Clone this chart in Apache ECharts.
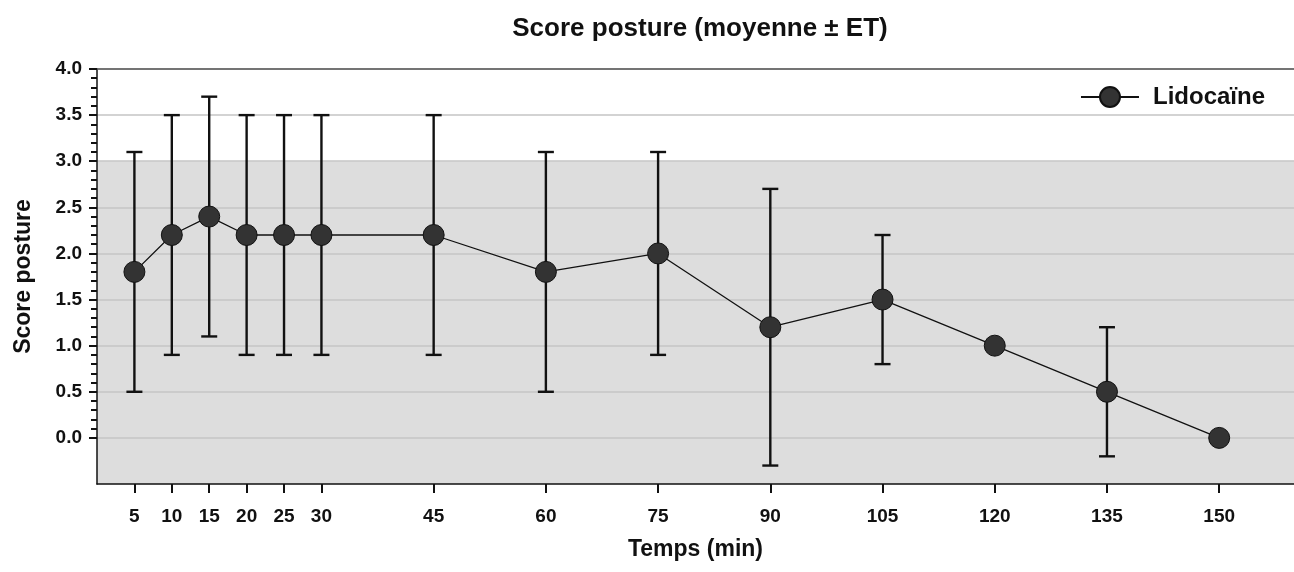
<!DOCTYPE html>
<html>
<head>
<meta charset="utf-8">
<script src="https://cdn.jsdelivr.net/npm/echarts@6/dist/echarts.min.js"></script>
<style>
html,body{margin:0;padding:0;background:#fff;}
#chart{width:1294px;height:572px;}
</style>
</head>
<body>
<div id="chart"></div>
<script>
// ---- data ----
const times = [5, 10, 15, 20, 25, 30, 45, 60, 75, 90, 105, 120, 135, 150];
const means = [1.8, 2.2, 2.4, 2.2, 2.2, 2.2, 2.2, 1.8, 2.0, 1.2, 1.5, 1.0, 0.5, 0.0];
const sds   = [1.3, 1.3, 1.3, 1.3, 1.3, 1.3, 1.3, 1.3, 1.1, 1.5, 0.7, 0.0, 0.7, 0.0];
const yMajorTicks = [0, 0.5, 1, 1.5, 2, 2.5, 3, 3.5, 4];
const yMinorTicks = [0.1,0.2,0.3,0.4,0.6,0.7,0.8,0.9,1.1,1.2,1.3,1.4,1.6,1.7,1.8,1.9,2.1,2.2,2.3,2.4,2.6,2.7,2.8,2.9,3.1,3.2,3.3,3.4,3.6,3.7,3.8,3.9];
const shadedRange = [-0.5, 3.0];
const seriesName = 'Lidocaïne';
const titleText = 'Score posture (moyenne ± ET)';
const xName = 'Temps (min)';
const yName = 'Score posture';

const FONT = '"Liberation Sans", Arial, sans-serif';
const lineData = times.map((t, i) => [t, means[i]]);
const errData = times.map((t, i) => [t, means[i] - sds[i], means[i] + sds[i]]).filter((d, i) => sds[i] > 0);

const chart = echarts.init(document.getElementById('chart'));
chart.setOption({
  animation: false,
  backgroundColor: '#ffffff',
  title: {
    text: titleText,
    left: 695,
    top: 11,
    textAlign: 'center',
    textStyle: { fontFamily: FONT, fontWeight: 'bold', fontSize: 26, color: '#111' }
  },
  legend: {
    right: 24,
    top: 80,
    itemWidth: 58,
    itemHeight: 25,
    data: [seriesName],
    textStyle: { fontFamily: FONT, fontWeight: 'bold', fontSize: 24, color: '#111', padding: [0, 0, 0, 9] }
  },
  grid: { left: 97, top: 69, right: -6, bottom: 88, containLabel: false },
  xAxis: [{
    type: 'value',
    min: 0, max: 160,
    z: 1,
    name: xName,
    nameLocation: 'middle',
    nameGap: 54,
    nameTextStyle: { fontFamily: FONT, fontWeight: 'bold', fontSize: 23, color: '#111' },
    axisLine: { show: true, onZero: false, lineStyle: { color: '#111', width: 1.5 } },
    axisTick: { show: true, customValues: times, length: 9, lineStyle: { color: '#111', width: 2 } },
    axisLabel: { customValues: times, margin: 23, fontFamily: FONT, fontWeight: 'bold', fontSize: 19, color: '#111' },
    splitLine: { show: false }
  }, {
    type: 'value',
    position: 'top',
    min: 0, max: 160,
    z: 1,
    axisLine: { show: true, onZero: false, lineStyle: { color: '#555', width: 1.5 } },
    axisTick: { show: false },
    axisLabel: { show: false },
    splitLine: { show: false }
  }],
  yAxis: [{
    type: 'value',
    min: -0.5, max: 4, interval: 0.5,
    z: 1,
    name: yName,
    nameLocation: 'middle',
    nameGap: 62,
    nameRotate: 90,
    nameTextStyle: { fontFamily: FONT, fontWeight: 'bold', fontSize: 23, color: '#111' },
    axisLine: { show: true, onZero: false, lineStyle: { color: '#111', width: 1.5 } },
    axisTick: { show: true, customValues: yMajorTicks, length: 8, lineStyle: { color: '#111', width: 2 } },
    axisLabel: {
      customValues: yMajorTicks,
      margin: 15,
      fontFamily: FONT, fontWeight: 'bold', fontSize: 19, color: '#111',
      formatter: v => v.toFixed(1)
    },
    splitLine: { show: true, lineStyle: { color: '#c4c4c4', width: 1.5 } }
  }, {
    type: 'value',
    position: 'left',
    min: -0.5, max: 4, interval: 0.5,
    z: 1,
    axisLine: { show: false, onZero: false },
    axisTick: { show: true, customValues: yMinorTicks, length: 6, lineStyle: { color: '#111', width: 2 } },
    axisLabel: { show: false },
    splitLine: { show: false }
  }],
  series: [{
    type: 'custom',
    name: 'ET',
    z: 2,
    xAxisIndex: 0, yAxisIndex: 0,
    data: errData,
    renderItem: function (params, api) {
      const x = api.value(0);
      const lo = api.coord([x, api.value(1)]);
      const hi = api.coord([x, api.value(2)]);
      const hw = 8;
      const style = { stroke: '#111', lineWidth: 2.4 };
      return {
        type: 'group',
        children: [
          { type: 'line', shape: { x1: lo[0], y1: lo[1], x2: hi[0], y2: hi[1] }, style: style },
          { type: 'line', shape: { x1: hi[0] - hw, y1: hi[1], x2: hi[0] + hw, y2: hi[1] }, style: style },
          { type: 'line', shape: { x1: lo[0] - hw, y1: lo[1], x2: lo[0] + hw, y2: lo[1] }, style: style }
        ]
      };
    }
  }, {
    type: 'line',
    name: seriesName,
    z: 3,
    xAxisIndex: 0, yAxisIndex: 0,
    data: lineData,
    symbol: 'circle',
    symbolSize: 21,
    itemStyle: { color: '#333333', borderColor: '#111', borderWidth: 1 },
    lineStyle: { color: '#111', width: 1.3 },
    markArea: {
      silent: true,
      z: 0,
      itemStyle: { color: '#dddddd' },
      data: [[{ yAxis: shadedRange[0] }, { yAxis: shadedRange[1] }]]
    }
  }]
});
</script>
</body>
</html>
